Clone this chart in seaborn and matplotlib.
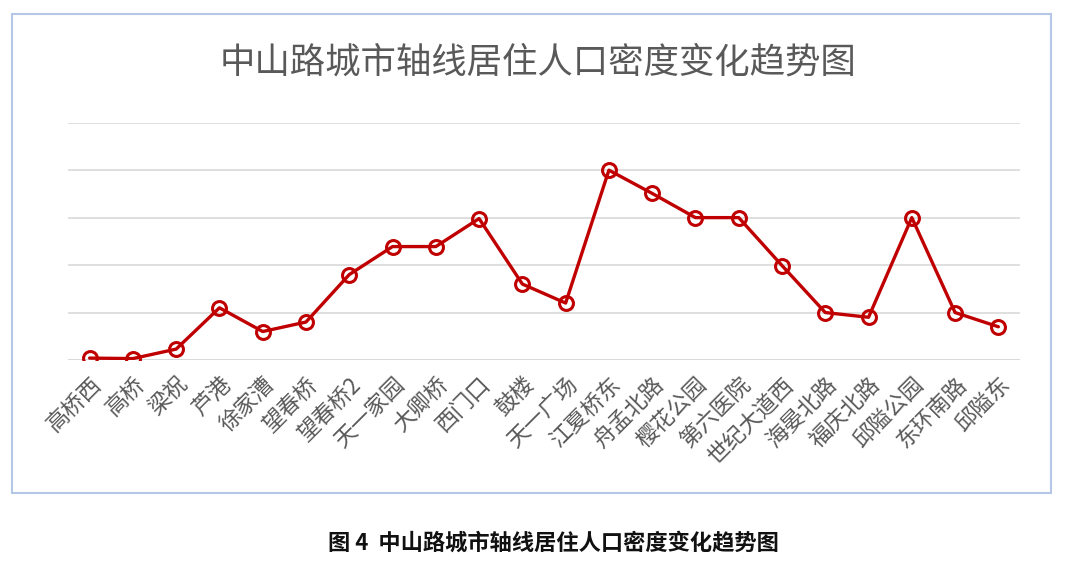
import matplotlib
matplotlib.use("Agg")
import matplotlib.pyplot as plt
import seaborn as sns
import pandas as pd
from matplotlib.patches import Rectangle

stations = ["高桥西", "高桥", "梁祝", "芦港", "徐家漕", "望春桥", "望春桥2", "天一家园",
            "大卿桥", "西门口", "鼓楼", "天一广场", "江夏桥东", "舟孟北路", "樱花公园",
            "第六医院", "世纪大道西", "海晏北路", "福庆北路", "邱隘公园", "东环南路", "邱隘东"]
density = [0.04, 0.03, 0.23, 1.1, 0.6, 0.8, 1.8, 2.39, 2.39, 2.98, 1.6, 1.2, 4.0, 3.51,
           3.0, 3.0, 1.99, 1.0, 0.9, 3.0, 1.0, 0.7]
y_ticks = [0, 1, 2, 3, 4, 5]
title = "中山路城市轴线居住人口密度变化趋势图"
caption = "图 4  中山路城市轴线居住人口密度变化趋势图"

sns.set_theme(style="white")
plt.rcParams['font.family'] = ['Noto Sans CJK SC', 'DejaVu Sans']

df = pd.DataFrame({"station": stations, "density": density})

fig = plt.figure(figsize=(10.8, 5.64), dpi=100)
ax = fig.add_axes([68/1080, 1-360/564, (1020-68)/1080, (360-122.7)/564])

red = "#c00000"
sns.lineplot(data=df, x="station", y="density", sort=False, ax=ax, color=red,
             linewidth=2.4, marker="o", markersize=10, markerfacecolor="none",
             markeredgecolor=red, markeredgewidth=2.2)

ax.set_xlim(-0.5, len(stations) - 0.5)
ax.set_ylim(y_ticks[0], y_ticks[-1])
ax.set_yticks(y_ticks)
ax.set_yticklabels([])
ax.tick_params(axis="y", length=0)
ax.yaxis.grid(True, color="#d9d9d9", linewidth=1.2)
ax.set_axisbelow(True)
for s in ax.spines.values():
    s.set_visible(False)
ax.axhline(y_ticks[0], color="#d9d9d9", linewidth=1.4, zorder=0.5)
ax.set_xlabel("")
ax.set_ylabel("")
ax.set_xticks(range(len(stations)))
ax.set_xticklabels(stations, rotation=45, ha="right", rotation_mode="anchor",
                   fontsize=16, color="#595959")
ax.tick_params(axis="x", length=0, pad=9)

fig.text(538/1080, 1-63/564, title, ha="center", va="center", fontsize=25.5, color="#595959")
fig.text(553/1080, 1-543/564, caption, ha="center", va="center", fontsize=16,
         color="#111111", fontweight="bold")

fig.add_artist(Rectangle((12/1080, 1-493/564), (1051-12)/1080, (493-14)/564,
                         transform=fig.transFigure, fill=False, edgecolor="#b4c7e7",
                         linewidth=1.5))

fig.savefig("out.png", dpi=100)
